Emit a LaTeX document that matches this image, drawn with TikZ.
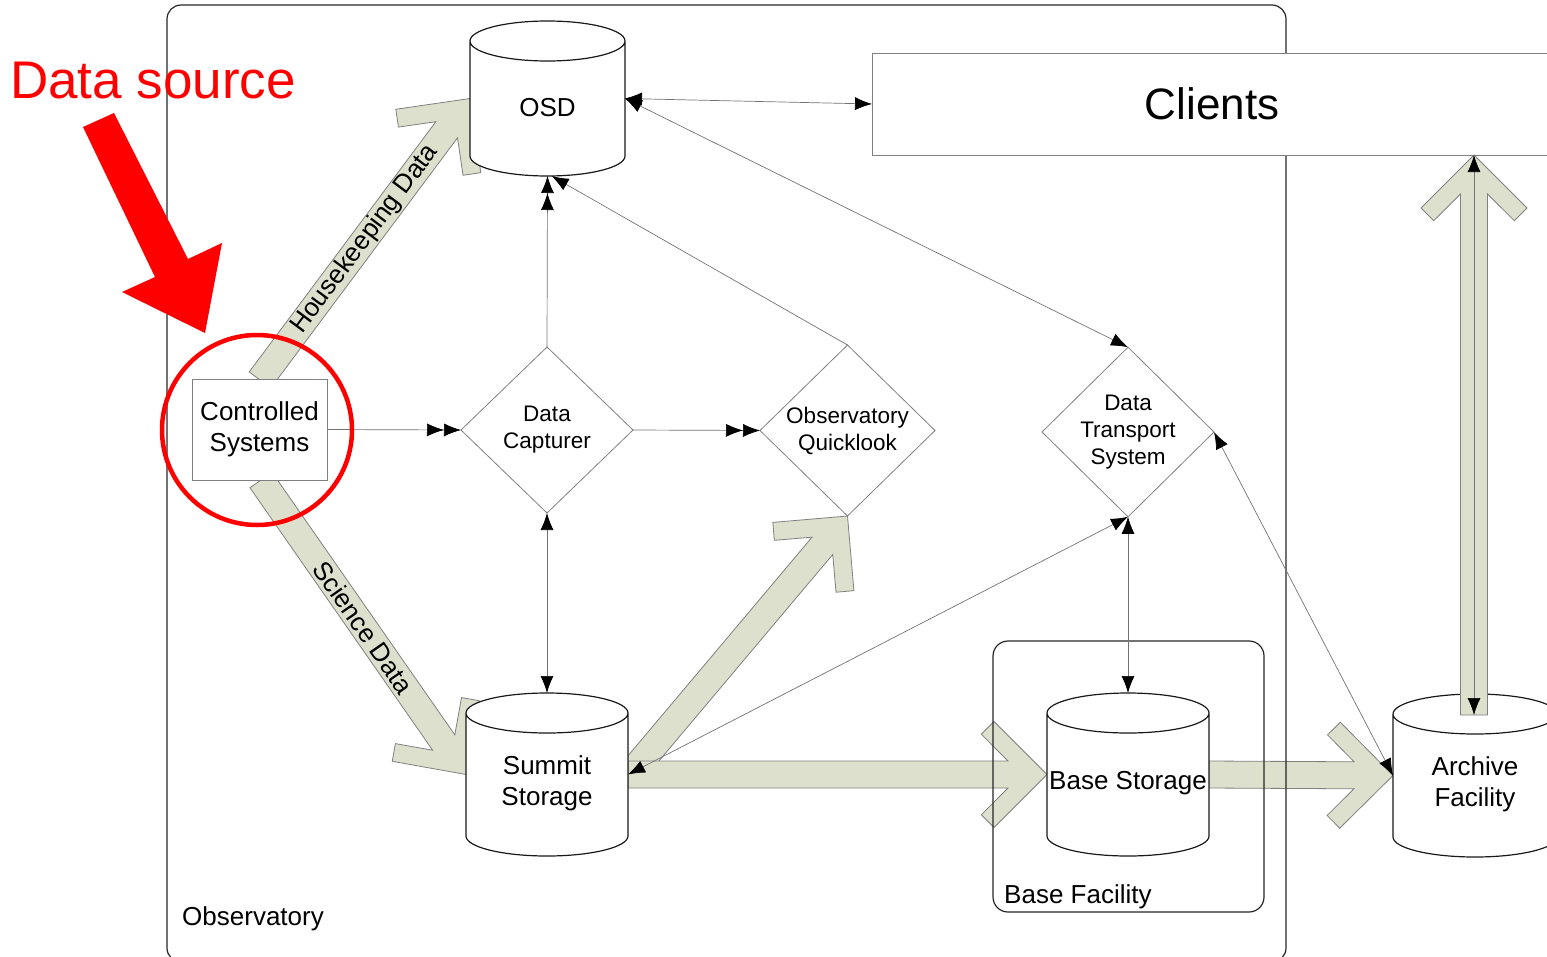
\documentclass[tikz,border=0pt]{standalone}
\usepackage{fontspec}
\setmainfont{Liberation Sans}
\usetikzlibrary{arrows.meta,calc,shapes.geometric,backgrounds}

\definecolor{flowfill}{RGB}{221,224,204}
\definecolor{edgegray}{RGB}{128,128,128}

\tikzset{
  >={Latex[length=17pt,width=13pt,color=black]},
  frame/.style={draw=black!85, line width=1.2pt, rounded corners=14pt},
  store/.style={rectangle, inner sep=0pt, outer sep=0pt},
  drumline/.style={draw=black!90, line width=1.2pt, fill=white},
  drumtext/.style={align=center, font=\fontsize{26}{31}\selectfont},
  proc/.style={diamond, draw=edgegray, line width=0.8pt, fill=white, inner sep=0pt,
    outer sep=0pt, align=center, font=\fontsize{22.5}{27}\selectfont},
  unit/.style={rectangle, draw=edgegray, line width=0.8pt, fill=white, inner sep=0pt,
    outer sep=0pt, align=center, font=\fontsize{26}{31}\selectfont},
  link/.style={draw=black!55, line width=0.7pt},
  flow/.style={fill=flowfill, draw=black!50, line width=0.8pt},
  flowtext/.style={font=\fontsize{26}{31}\selectfont, sloped, inner sep=1pt},
  note/.style={font=\fontsize{26}{31}\selectfont, anchor=base west, inner sep=0pt},
}

% storage drum drawn round the box of node #1
\newcommand{\drum}[1]{%
  \path[drumline] let \p1=(#1.north west), \p2=(#1.south east), \n1={(\x2-\x1)/2} in
    (\x1,\y1-20pt) -- (\x1,\y2+20pt)
    arc[start angle=180, end angle=360, x radius=\n1, y radius=20pt]
    -- (\x2,\y1-20pt)
    arc[start angle=0, end angle=180, x radius=\n1, y radius=20pt]
    arc[start angle=180, end angle=360, x radius=\n1, y radius=20pt];
}

% broad data flow arrow from #1 with its point at #2
\newcommand{\flowarrow}[2]{%
  \path[flow] let \p1=($(#1)-(#2)$), \n1={veclen(\x1,\y1)}, \n2={atan2(\y1,\x1)} in
    {[shift={(#2)}, rotate=\n2]
      (\n1,13.5pt) -- (39pt,13.5pt) -- (65.7pt,40.3pt) -- (53pt,53pt) -- (0pt,0pt)
      -- (53pt,-53pt) -- (65.7pt,-40.3pt) -- (39pt,-13.5pt) -- (\n1,-13.5pt) -- cycle};
}

\begin{document}
\begin{tikzpicture}[x=1pt, y=-1pt]
\useasboundingbox (0,0) rectangle (1547,956);

% Observatory and base facility frames
\draw[frame] (167,5) rectangle (1286,962);
\node[note] (obslabel) at (182,925) {Observatory};
\draw[frame, rounded corners=15pt] (993,641) rectangle (1264,912);
\node[note] (baselabel) at (1004,903) {Base Facility};

% Storage drums
\node[store, minimum width=155pt, minimum height=155pt] (osd) at (547.5,98.5) {};
\drum{osd}
\node[drumtext] (osdtext) at ($(osd)+(0,9)$) {OSD};

\node[store, minimum width=162pt, minimum height=163pt] (summit) at (547,774.5) {};
\drum{summit}
\node[drumtext] (summittext) at ($(summit)+(0,9)$) {Summit\\Storage};

\node[store, minimum width=162pt, minimum height=163pt] (base) at (1128,774.5) {};
\drum{base}
\node[drumtext] (basetext) at ($(base)+(0,9)$) {Base Storage};

\node[store, minimum width=164pt, minimum height=163pt] (archive) at (1475,775.5) {};
\drum{archive}
\node[drumtext] (archivetext) at ($(archive)+(0,9)$) {Archive\\Facility};

% Processes
\node[proc, minimum width=172pt, minimum height=166pt] (dc) at (547,430) {Data\\Capturer};
\node[proc, minimum width=175pt, minimum height=171pt] (ql) at (847.5,430.5) {Observatory\\Quicklook};
\node[proc, minimum width=172pt, minimum height=168pt] (dts) at (1128,432) {Data\\Transport\\System};

\node[unit, minimum width=135pt, minimum height=101pt] (cs) at (259.5,429.5) {Controlled\\Systems};
\node[unit, minimum width=680pt, minimum height=102pt, font=\fontsize{44}{50}\selectfont]
  (clients) at (1212,104) {Clients};

% Broad data flows, kept behind the components
\coordinate (hkfoot) at (260,380);
\coordinate (scifoot) at (261,480);
\coordinate (qlfoot) at (632,772);
\begin{scope}[on background layer]
  \flowarrow{hkfoot}{osd.west}
  \flowarrow{scifoot}{summit.west}
  \flowarrow{qlfoot}{ql.south}
  \flowarrow{summit.east}{base.west}
  \flowarrow{base.east}{archive.west}
  \path (hkfoot) -- (osd.west) node[flowtext, pos=0.5] (hktext) {Housekeeping Data};
  \path (scifoot) -- (summit.west) node[flowtext, pos=0.5] (scitext) {Science Data};
\end{scope}

% Archive to clients
\coordinate (acfoot) at (1474,715);
\coordinate (actip) at (1474,155);
\flowarrow{acfoot}{actip}
\draw[link, <->] (acfoot) -- (actip);

% Control and request links
\draw[link, <->] (osd.east) -- (clients.west);
\draw[link, <->] (dts.north) -- (osd.east);
\draw[link, ->>] (dc.north) -- (osd.south);
\draw[link, ->] (ql.north) -- (osd.-87);
\draw[link, ->>] (cs.east) -- (dc.west);
\draw[link, ->>] (dc.east) -- (ql.west);
\draw[link, <->] (dc.south) -- (summit.north);
\draw[link, <->] (dts.south) -- (base.north);
\draw[link, <->] (summit.east) -- (dts.south);
\draw[link, <->] (archive.west) -- (dts.east);

% Data source marker
\node[anchor=base west, inner sep=0pt, text=red, font=\fontsize{53}{60}\selectfont] (srclabel) at (10,98) {Data source};
\fill[red] (83,127) -- (114,113) -- (188,259) -- (222,243) -- (205,333) -- (122,292) -- (155,277) -- cycle;
\draw[red, line width=4.5pt] (257,430) circle[radius=95pt];

\end{tikzpicture}
\end{document}
